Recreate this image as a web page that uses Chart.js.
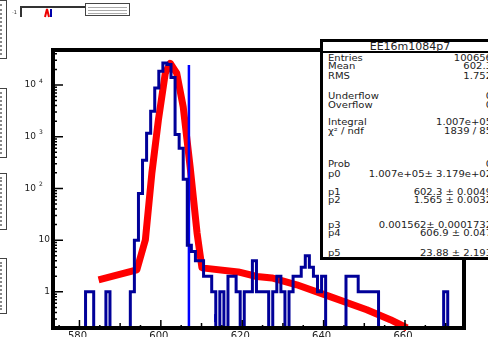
<!DOCTYPE html>
<html>
<head>
<meta charset="utf-8">
<script src="https://cdn.jsdelivr.net/npm/chart.js@4.4.1/dist/chart.umd.min.js"></script>
<style>
  html, body { margin: 0; padding: 0; background: #fff; }
  body { width: 488px; height: 337px; overflow: hidden; position: relative; font-family: "DejaVu Sans", sans-serif; }
  #c { position: absolute; left: 0; top: 0; }
  .pad { position: absolute; left: -10px; width: 15px; border: 1px solid #444; background: #fff; }
  .pad::after { content: ""; position: absolute; left: 9px; top: 3px; bottom: 3px; border-left: 2px dotted #888; }
  #stats { position: absolute; left: 320px; top: 39px; width: 180px; height: 221px; box-sizing: border-box;
           border: 3px solid #000; background: #fff; color: #222; }
  #stats .title { position: absolute; left: 0; right: 0; top: 0; height: 9px; border-bottom: 2px solid #000;
                  font-size: 11px; line-height: 10px; text-align: center; transform-origin: center top; }
  #stats .row { position: absolute; left: 5px; right: 5px; height: 12px; font-size: 10px; line-height: 12px;
                transform: scaleY(0.82); white-space: nowrap; }
  #stats .row .v { position: absolute; right: 0; top: 0; }
  #mini { position: absolute; left: 85px; top: 3px; width: 45px; height: 13px; border: 1px solid #444; box-sizing: border-box; background: #fff; }
  #mini div { position: absolute; left: 2px; right: 2px; height: 1px; background: #aaa; }
</style>
</head>
<body>
<canvas id="c" width="488" height="337"></canvas>

<!-- neighbouring pads cut by the edge of the canvas -->
<div class="pad" style="top:0;height:57px"></div>
<div class="pad" style="top:88px;height:68px"></div>
<div class="pad" style="top:173px;height:55px"></div>
<div class="pad" style="top:258px;height:54px"></div>
<div style="position:absolute;left:20px;top:6px;width:65px;height:9px;border-top:2px solid #333;border-left:2px solid #333"></div>
<div style="position:absolute;left:12px;top:9px;font-size:5px;color:#333">-1</div>
<svg style="position:absolute;left:44px;top:8px" width="10" height="10">
  <path d="M1 9 L3 1 L5 9" stroke="#e00" stroke-width="2" fill="none"/>
  <path d="M7 1 L7 9" stroke="#00a" stroke-width="2"/>
</svg>
<div id="mini"><div style="top:3px"></div><div style="top:6px"></div><div style="top:9px"></div></div>

<div id="stats">
  <div class="title">EE16m1084p7</div>
</div>

<script>
// histogram: 101 bins of width 1 from 573.5 to 674.5 (bin centres 574 ... 674)
const histMin = 573.5;
const histMax = 674.5;
const binWidth = 1;
const counts = [
  0, 0, 0, 0, 0, 0, 0, 0, 0, 1,          // 574-583
  1, 0, 0, 0, 1, 0, 0, 0, 0, 0,          // 584-593
  1, 10, 80, 350, 1170, 3100, 8700, 18500, 26500, 25000,   // 594-603
  14000, 1100, 600, 150, 8, 6, 4, 4, 2, 2,                 // 604-613
  1, 0, 1, 0, 2, 2, 1, 0, 1, 1,          // 614-623
  4, 1, 1, 1, 0, 1, 2, 1, 0, 1,          // 624-633
  2, 2, 3, 5, 3, 2, 1, 2, 0, 0,          // 634-643
  0, 0, 0, 2, 2, 2, 1, 1, 1, 1,          // 644-653
  1, 0, 0, 0, 0, 0, 0, 0, 0, 0,          // 654-663
  0, 0, 0, 0, 0, 0, 0, 1, 0, 0,          // 664-673
  0                                      // 674
];

// fit curve as drawn (gaussian + tail)
const fitX = [584.7, 594.1, 596.2, 597.8, 599.4, 601.1, 602.3, 603.9, 605.5, 607.2, 608.9, 610.1,
              619.0, 623.6, 627.3, 633.4, 641.6, 650.6, 656.4, 660.5];
const fitY = [1.71, 2.66, 10.1, 199, 2100, 17000, 26300, 17000, 3760, 260, 13.8, 2.91,
              2.43, 1.98, 1.86, 1.37, 0.81, 0.45, 0.29, 0.2];

// marker lines
const markX = [606.9, 613.3];
const markTop = [24400, 0.37];
const markBottom = [0.1, 0.26];

// axis ticks / labels
const xLabels = [580, 600, 620, 640, 660];
const yLabels = ['1', '10', '10^2', '10^3', '10^4'];
const yMin = 0.2, yMax = 47500;

// stats box
const statRows = [
  ['Entries', '100656', 58.5],
  ['Mean', '602.3', 66.7],
  ['RMS', '1.752', 76.7],
  ['Underflow', '0', 96.7],
  ['Overflow', '0', 105.7],
  ['Integral', '1.007e+05', 123.3],
  ['χ² / ndf', '1839 / 85', 132.3],
  ['Prob', '0', 165],
  ['p0', '1.007e+05± 3.179e+02', 175],
  ['p1', '602.3 ± 0.0049', 193.3],
  ['p2', '1.565 ± 0.0032', 200.7],
  ['p3', '0.001562± 0.0001732', 226],
  ['p4', '606.9 ± 0.047', 234],
  ['p5', '23.88 ± 2.193', 254]
];

const statsBox = document.getElementById('stats');
statRows.forEach(r => {
  const d = document.createElement('div');
  d.className = 'row';
  d.style.top = (r[2] - 42 - 6) + 'px';
  const l = document.createElement('span');
  l.textContent = r[0];
  const v = document.createElement('span');
  v.className = 'v';
  v.textContent = r[1];
  d.appendChild(l);
  d.appendChild(v);
  statsBox.appendChild(d);
});

// step outline points; empty bins go below the frame like ROOT does
const floorVal = 0.05;
const stepPts = counts.map((c, i) => ({ x: histMin + i * binWidth, y: c > 0 ? c : floorVal }));
stepPts.push({ x: histMax, y: counts[counts.length - 1] > 0 ? counts[counts.length - 1] : floorVal });

const markSets = markX.map((mx, i) => ({
  data: [{ x: mx, y: markTop[i] }, { x: mx, y: markBottom[i] }],
  borderColor: '#0000ff',
  borderWidth: i === 0 ? 2.5 : 1,
  pointRadius: 0,
  clip: 0
}));

const rootFrame = {
  id: 'rootFrame',
  afterDatasetsDraw(chart) {
    const { ctx, chartArea: a, scales: { x, y } } = chart;
    ctx.save();
    ctx.strokeStyle = '#000';
    ctx.lineWidth = 1.5;
    ctx.beginPath();
    for (let v = 575; v <= 674; v += 5) {
      const px = x.getPixelForValue(v);
      const len = v % 20 === 0 ? 8 : (v % 10 === 0 ? 5 : 3);
      ctx.moveTo(px, a.bottom);
      ctx.lineTo(px, a.bottom - len);
    }
    for (let e = -1; e <= 4; e++) {
      for (let m = 1; m <= 9; m++) {
        const val = m * Math.pow(10, e);
        if (val < yMin || val > yMax) continue;
        const py = y.getPixelForValue(val);
        const len = m === 1 ? 10 : 4;
        ctx.moveTo(a.left, py);
        ctx.lineTo(a.left + len, py);
      }
    }
    ctx.stroke();

    ctx.lineWidth = 4;
    ctx.strokeRect(a.left, a.top, a.right - a.left, a.bottom - a.top);

    ctx.fillStyle = '#222';
    ctx.font = '10px "DejaVu Sans"';
    ctx.textAlign = 'center';
    ctx.textBaseline = 'top';
    xLabels.forEach(v => ctx.fillText(String(v), x.getPixelForValue(v) - 2, a.bottom + 3));

    ctx.textBaseline = 'middle';
    yLabels.forEach((lab, i) => {
      const py = y.getPixelForValue(Math.pow(10, i));
      const parts = lab.split('^');
      if (parts.length === 1) {
        ctx.font = '9px "DejaVu Sans"';
        ctx.textAlign = 'right';
        ctx.fillText(parts[0], a.left - 3, py);
      } else {
        ctx.font = '9px "DejaVu Sans"';
        ctx.textAlign = 'right';
        ctx.fillText(parts[0], a.left - 17, py);
        ctx.font = '6px "DejaVu Sans"';
        ctx.textAlign = 'left';
        ctx.fillText(parts[1], a.left - 14, py - 4);
      }
    });
    ctx.restore();
  }
};

new Chart(document.getElementById('c').getContext('2d'), {
  type: 'line',
  data: {
    datasets: [
      {
        data: stepPts,
        stepped: 'after',
        borderColor: '#000099',
        borderWidth: 3,
        pointRadius: 0,
        clip: 1
      },
      ...markSets,
      {
        data: fitX.map((v, i) => ({ x: v, y: fitY[i] })),
        borderColor: '#ff0000',
        borderWidth: 7,
        pointRadius: 0,
        tension: 0,
        borderJoinStyle: 'round',
        clip: 4
      }
    ]
  },
  options: {
    responsive: false,
    animation: false,
    devicePixelRatio: 1,
    layout: { padding: { left: 53, top: 50, right: 24, bottom: 9 } },
    plugins: { legend: { display: false }, tooltip: { enabled: false } },
    scales: {
      x: { type: 'linear', min: histMin, max: histMax, display: false },
      y: { type: 'logarithmic', min: yMin, max: yMax, display: false }
    }
  },
  plugins: [rootFrame]
});
</script>
</body>
</html>
